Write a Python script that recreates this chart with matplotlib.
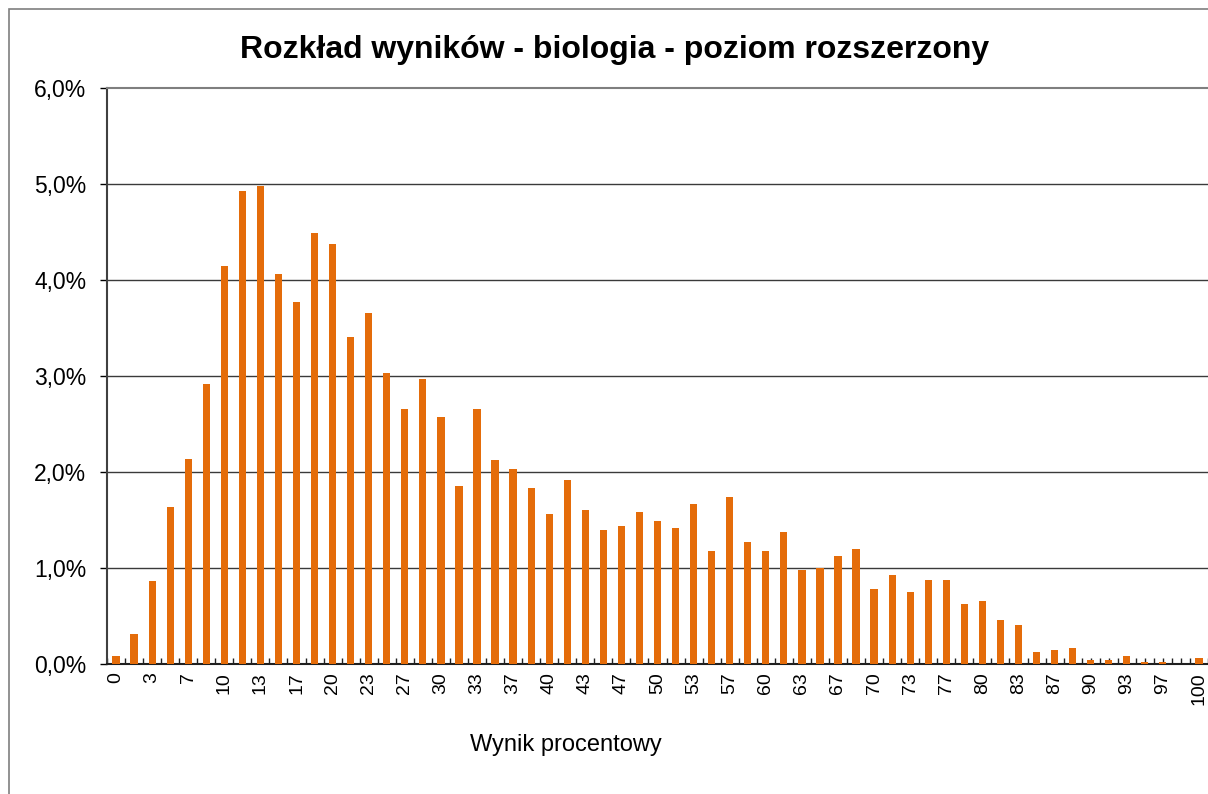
import numpy as np
import matplotlib
matplotlib.use("Agg")
from matplotlib import pyplot as plt
from matplotlib.patches import Rectangle
from matplotlib.ticker import FuncFormatter

plt.rcParams['font.family'] = ['Liberation Sans', 'DejaVu Sans']

# wynik procentowy (0..60 pkt -> 0..100%) i odsetek zdajacych
punkty = np.arange(61)
wyniki = [round(p * 100 / 60) for p in punkty]
odsetek = [0.08, 0.31, 0.86, 1.64, 2.14, 2.92, 4.15, 4.93, 4.98, 4.06,
           3.77, 4.49, 4.37, 3.41, 3.66, 3.03, 2.66, 2.97, 2.57, 1.85,
           2.66, 2.12, 2.03, 1.83, 1.56, 1.92, 1.60, 1.40, 1.44, 1.58,
           1.49, 1.42, 1.67, 1.18, 1.74, 1.27, 1.18, 1.38, 0.98, 1.00,
           1.13, 1.20, 0.78, 0.93, 0.75, 0.87, 0.87, 0.62, 0.66, 0.46,
           0.41, 0.13, 0.15, 0.17, 0.04, 0.04, 0.08, 0.02, 0.02, 0.0,
           0.06]
y_ticks = [0, 1, 2, 3, 4, 5, 6]

fig = plt.figure(figsize=(12.08, 7.94), dpi=100)
W, H = 1208, 794

# ramka wykresu (przycieta z prawej i z dolu)
fig.patches.append(Rectangle((9 / W, -0.1), 1.2, 1 - 9 / H + 0.1, transform=fig.transFigure,
                             fill=False, edgecolor='#7f7f7f', linewidth=1.2))

ax = fig.add_axes([107 / W, (H - 664) / H, (1208 - 107) / W, 576 / H])
ax.bar(punkty, odsetek, width=0.4, color='#E46C0A', zorder=3)

ax.set_xlim(-0.5, 60.5)
ax.set_ylim(0, 6)
ax.set_yticks(y_ticks)
ax.yaxis.set_major_formatter(FuncFormatter(lambda v, p: '{:.1f}%'.format(v).replace('.', ',')))
ax.tick_params(axis='y', direction='out', length=5, width=1, pad=10, labelsize=16.5)
for y in y_ticks[1:-1]:
    ax.axhline(y, color='#3a3a3a', linewidth=1, zorder=1)

ax.set_xticks(punkty[::2])
ax.set_xticklabels([str(w) for w in wyniki[::2]], rotation=90, fontsize=14)
ax.tick_params(axis='x', which='major', length=0, pad=6)
ax.xaxis.remove_overlapping_locs = False
ax.set_xticks(np.arange(-0.5, 60.6, 0.5), minor=True)
ax.tick_params(axis='x', which='minor', direction='in', length=4, width=1, color='#202020')

ax.spines['right'].set_visible(False)
ax.spines['top'].set_color('#7f7f7f')
ax.spines['top'].set_linewidth(1.5)
ax.spines['left'].set_color('#404040')
ax.spines['left'].set_linewidth(1.5)
ax.spines['bottom'].set_color('#202020')
ax.spines['bottom'].set_linewidth(1.5)

fig.text(615 / W, 1 - 50 / H, 'Rozkład wyników - biologia - poziom rozszerzony',
         ha='center', va='center', fontsize=23, fontweight='bold')
fig.text(566 / W, 1 - 745 / H, 'Wynik procentowy', ha='center', va='center', fontsize=17)

fig.savefig('out.png', dpi=100)
